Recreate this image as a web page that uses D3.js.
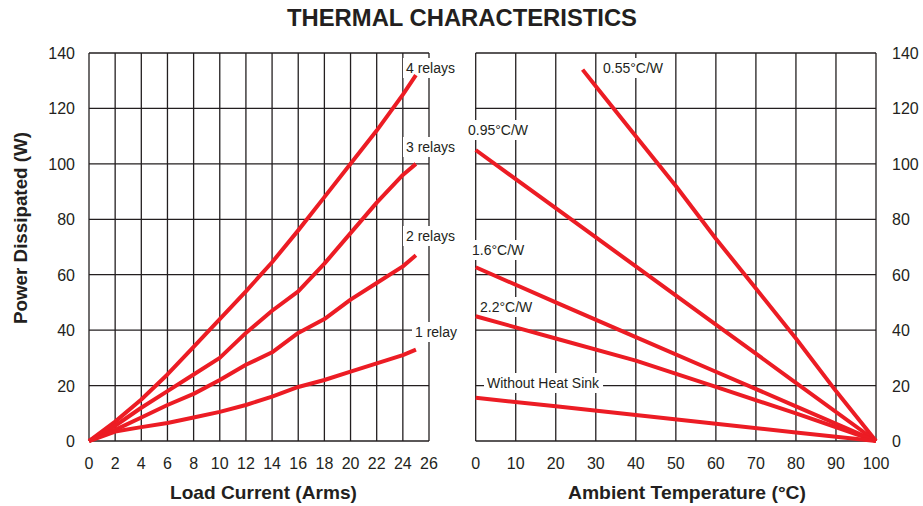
<!DOCTYPE html>
<html><head><meta charset="utf-8">
<script src="https://cdn.jsdelivr.net/npm/d3@7"></script>
<style>body{margin:0;background:#fff}svg{display:block}</style>
</head><body>
<svg id="c" width="923" height="506"></svg>
<script>
const title = "THERMAL CHARACTERISTICS";
const yTicks = [0,20,40,60,80,100,120,140];
const currentTicks = [0,2,4,6,8,10,12,14,16,18,20,22,24,26];
const tempTicks = [0,10,20,30,40,50,60,70,80,90,100];
const relayLabels = ["4 relays","3 relays","2 relays","1 relay"];
const relay4 = [[0,0],[2,7],[4,15],[6,24],[8,34],[10,44],[12,54],[14,64.5],[16,76],[18,88],[20,100],[22,112],[24,125],[25,132]];
const relay3 = [[0,0],[2,5.5],[4,12],[6,18],[8,24],[10,30],[12,39],[14,47],[16,54],[18,64],[20,75],[22,86],[24,96],[25,100]];
const relay2 = [[0,0],[2,4],[4,8.5],[6,13],[8,17],[10,22],[12,27.5],[14,32],[16,39],[18,44],[20,51],[22,57],[24,63],[25,67]];
const relay1 = [[0,0],[2,3.4],[4,5],[6,6.5],[8,8.5],[10,10.5],[12,13],[14,16],[16,19.5],[18,22],[20,25],[22,28],[24,31],[25,33]];
const sinkLabels = ["0.55°C/W","0.95°C/W","1.6°C/W","2.2°C/W","Without Heat Sink"];
const sink055 = [[26.7,134],[30,128],[40,110],[50,92],[60,73],[70,55],[80,37],[90,18],[100,0]];
const sink095 = [[0,105],[20,84],[40,63],[60,42],[80,21],[100,0]];
const sink16 = [[0,62.7],[20,50],[40,37.5],[60,25],[80,12.5],[100,0]];
const sink22 = [[0,45],[20,37],[40,29],[60,19.5],[80,10],[100,0]];
const sinkNone = [[0,15.6],[20,12.5],[40,9.4],[60,6.2],[80,3.1],[100,0]];

const svg = d3.select("#c");
const font = "'Liberation Sans', Arial, sans-serif";
const red = "#ec1c24";
const ink = "#231f20";

const y = d3.scaleLinear().domain([0,140]).range([441,53]);
const xL = d3.scaleLinear().domain([0,26]).range([89,429]);
const xR = d3.scaleLinear().domain([0,100]).range([475.7,876]);

function panel(x, ticks) {
  const g = svg.append("g");
  g.selectAll(".v").data(ticks).join("line")
    .attr("x1",d=>x(d)).attr("x2",d=>x(d)).attr("y1",y(140)).attr("y2",y(0))
    .attr("stroke",ink).attr("stroke-width",1.3);
  g.selectAll(".h").data(yTicks).join("line")
    .attr("x1",x.range()[0]).attr("x2",x.range()[1]).attr("y1",d=>y(d)).attr("y2",d=>y(d))
    .attr("stroke",ink).attr("stroke-width",1.3);
  g.selectAll(".t").data(ticks).join("text")
    .attr("x",d=>x(d)).attr("y",469).attr("text-anchor","middle")
    .attr("font-family",font).attr("font-size",16).attr("fill",ink).text(d=>d);
}
panel(xL, currentTicks);
panel(xR, tempTicks);

svg.selectAll(".yl").data(yTicks).join("text")
  .attr("x",75).attr("y",d=>y(d)+6).attr("text-anchor","end")
  .attr("font-family",font).attr("font-size",16).attr("fill",ink).text(d=>d);
svg.selectAll(".yr").data(yTicks).join("text")
  .attr("x",892).attr("y",d=>y(d)+6).attr("text-anchor","start")
  .attr("font-family",font).attr("font-size",16).attr("fill",ink).text(d=>d);

function label(txt, xx, yy) {
  const t = svg.append("text").attr("x",xx).attr("y",yy)
    .attr("font-family",font).attr("font-size",14).attr("fill",ink).text(txt);
  const b = t.node().getBBox();
  svg.insert("rect", function(){return t.node();})
    .attr("x",b.x-3).attr("y",b.y-2).attr("width",b.width+6).attr("height",b.height+4).attr("fill","#fff");
}
label(relayLabels[0],406,73);
label(relayLabels[1],406,152);
label(relayLabels[2],406,241);
label(relayLabels[3],415,337);
label(sinkLabels[0],603,73);
label(sinkLabels[1],468,135);
label(sinkLabels[2],472,255);
label(sinkLabels[3],480,312);
label(sinkLabels[4],487,388);

const lineL = d3.line().x(d=>xL(d[0])).y(d=>y(d[1]));
const lineR = d3.line().x(d=>xR(d[0])).y(d=>y(d[1]));
[relay4,relay3,relay2,relay1].forEach(s=>{
  svg.append("path").attr("d",lineL(s)).attr("fill","none").attr("stroke",red)
    .attr("stroke-width",4).attr("stroke-linejoin","round");
});
[sink055,sink095,sink16,sink22,sinkNone].forEach(s=>{
  svg.append("path").attr("d",lineR(s)).attr("fill","none").attr("stroke",red)
    .attr("stroke-width",4).attr("stroke-linejoin","round");
});

svg.append("text").attr("x",462).attr("y",26).attr("text-anchor","middle")
  .attr("font-family",font).attr("font-weight","bold").attr("font-size",23)
  .attr("textLength",350).attr("lengthAdjust","spacingAndGlyphs")
  .attr("fill",ink).text(title);
svg.append("text").attr("x",263.5).attr("y",499).attr("text-anchor","middle")
  .attr("font-family",font).attr("font-weight","bold").attr("font-size",18.5)
  .attr("textLength",187).attr("lengthAdjust","spacingAndGlyphs")
  .attr("fill",ink).text("Load Current (Arms)");
svg.append("text").attr("x",687).attr("y",499).attr("text-anchor","middle")
  .attr("font-family",font).attr("font-weight","bold").attr("font-size",18.5)
  .attr("textLength",238).attr("lengthAdjust","spacingAndGlyphs")
  .attr("fill",ink).text("Ambient Temperature (°C)");
svg.append("text").attr("transform","translate(27,228) rotate(-90)").attr("text-anchor","middle")
  .attr("font-family",font).attr("font-weight","bold").attr("font-size",18)
  .attr("textLength",192).attr("lengthAdjust","spacingAndGlyphs")
  .attr("fill",ink).text("Power Dissipated (W)");
</script>
</body></html>
